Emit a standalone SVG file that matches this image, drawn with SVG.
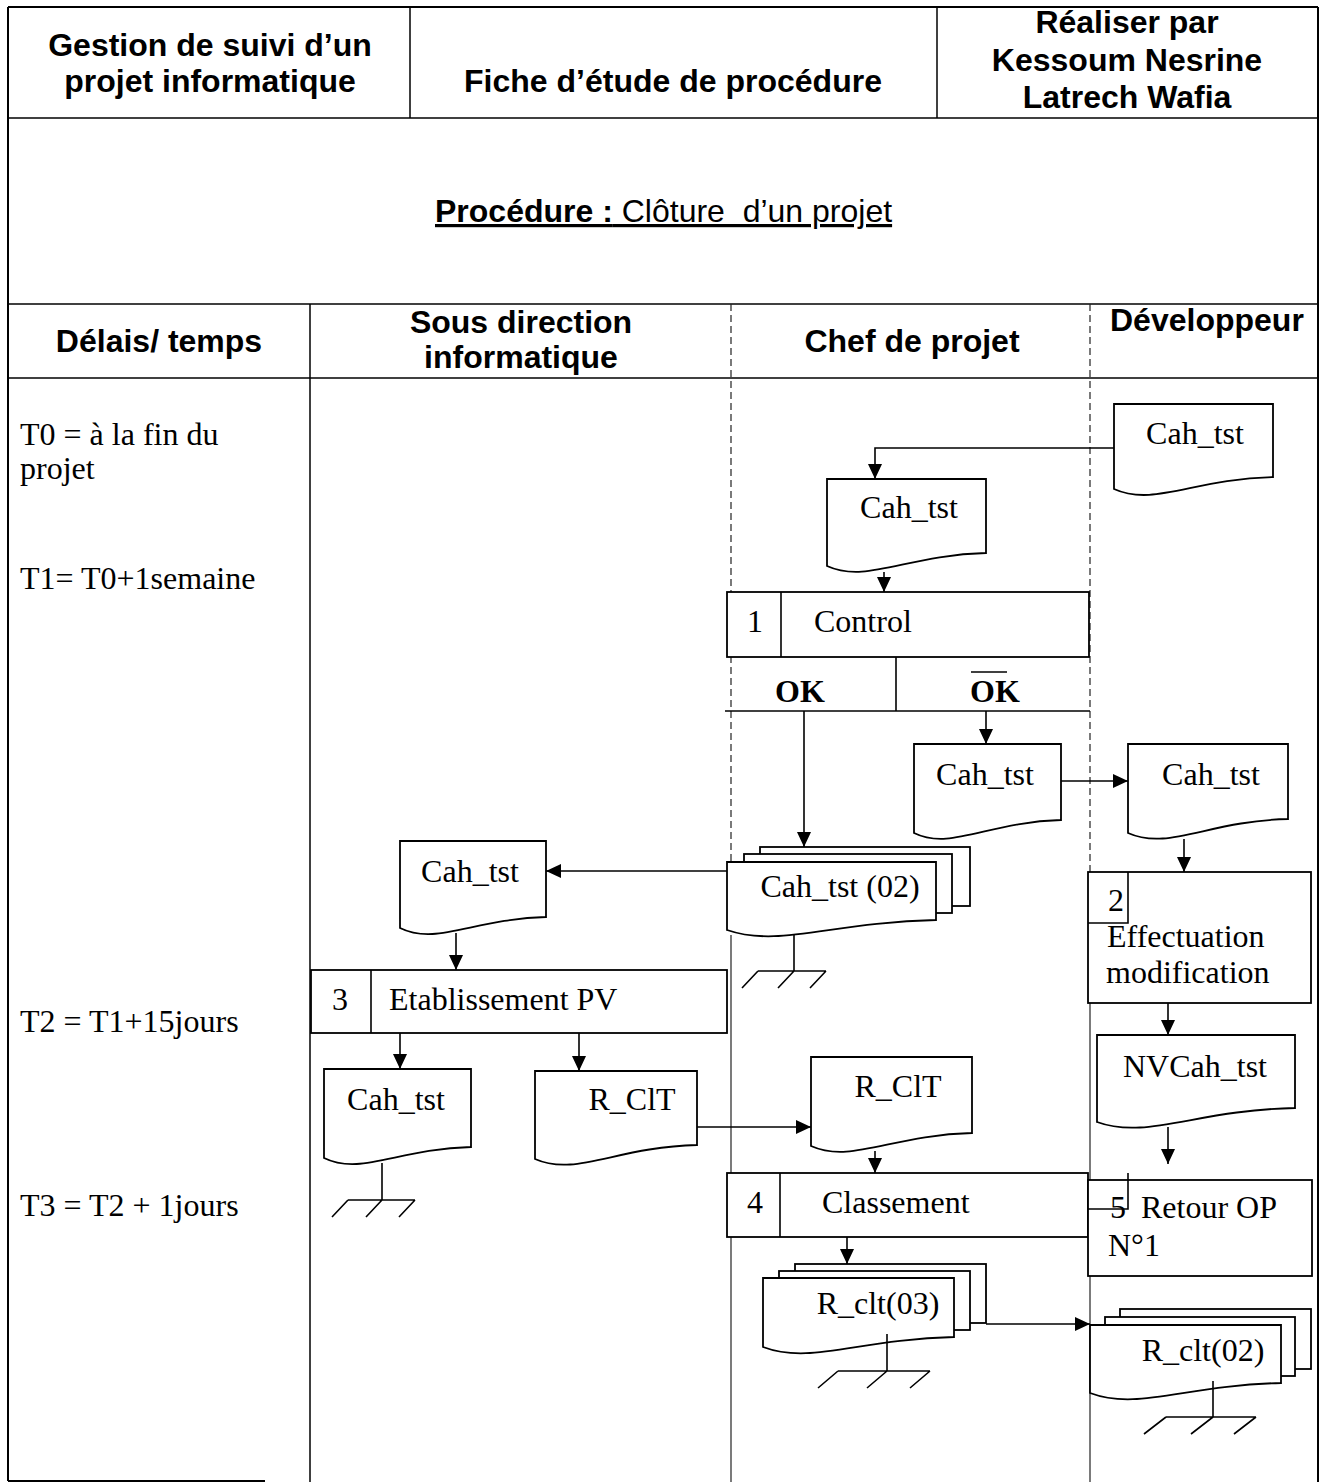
<svg xmlns="http://www.w3.org/2000/svg" width="1323" height="1482" viewBox="0 0 1323 1482">
  <style>
    .frame { stroke: #000; stroke-width: 2; fill: none; }
    .rule { stroke: #000; stroke-width: 1.5; fill: none; }
    .dash { stroke: #222; stroke-width: 1.2; fill: none; stroke-dasharray: 7 4; }
    .thin { stroke: #222; stroke-width: 1.2; fill: none; }
    .shape { fill: #fff; stroke: #000; stroke-width: 1.8; }
    .line { stroke: #000; stroke-width: 1.6; fill: none; }
    .conn { stroke: #000; stroke-width: 1.6; fill: none; marker-end: url(#ah); }
    .hdr { font-family: "Liberation Sans", Arial, sans-serif; font-weight: bold; font-size: 32px; fill: #000; }
    .lbl { font-family: "Liberation Serif", "Times New Roman", serif; font-size: 32px; fill: #000; }
    .mid { text-anchor: middle; }
  </style>
  <defs>
    <marker id="ah" viewBox="0 0 15 14" refX="15" refY="7" markerWidth="15" markerHeight="14" markerUnits="userSpaceOnUse" orient="auto">
      <path d="M0,0 L15,7 L0,14 Z" fill="#000"/>
    </marker>
  </defs>

  <rect width="1323" height="1482" fill="#fff"/>

  <!-- form frame and grid -->
  <g id="frame">
    <line class="frame" x1="8" y1="7" x2="1318" y2="7"/>
    <line class="frame" x1="8" y1="7" x2="8" y2="1481"/>
    <line class="frame" x1="1318" y1="7" x2="1318" y2="1482"/>
    <line class="frame" x1="8" y1="1481" x2="265" y2="1481"/>
    <line class="rule" x1="8" y1="118" x2="1318" y2="118"/>
    <line class="rule" x1="8" y1="304" x2="1318" y2="304"/>
    <line class="rule" x1="8" y1="378" x2="1318" y2="378"/>
    <line class="rule" x1="410" y1="7" x2="410" y2="118"/>
    <line class="rule" x1="937" y1="7" x2="937" y2="118"/>
    <line class="rule" x1="310" y1="304" x2="310" y2="1482"/>
    <line class="dash" x1="731" y1="304" x2="731" y2="862"/>
    <line class="thin" x1="731" y1="935" x2="731" y2="1482"/>
    <line class="dash" x1="1090" y1="304" x2="1090" y2="872"/>
    <line class="thin" x1="1090" y1="1003" x2="1090" y2="1482"/>
  </g>

  <!-- header texts -->
  <g id="header">
    <text class="hdr mid" x="210" y="56">Gestion de suivi d’un</text>
    <text class="hdr mid" x="210" y="92">projet informatique</text>
    <text class="hdr mid" x="673" y="92">Fiche d’étude de procédure</text>
    <text class="hdr mid" x="1127" y="33">Réaliser par</text>
    <text class="hdr mid" x="1127" y="71">Kessoum Nesrine</text>
    <text class="hdr mid" x="1127" y="108">Latrech Wafia</text>
    <text x="435" y="222" xml:space="preserve" text-decoration="underline" font-family="Liberation Sans, Arial, sans-serif" font-size="32"><tspan font-weight="bold">Procédure :</tspan> Clôture  d’un projet</text>
    <text class="hdr mid" x="159" y="352">Délais/ temps</text>
    <text class="hdr mid" x="521" y="333">Sous direction</text>
    <text class="hdr mid" x="521" y="368">informatique</text>
    <text class="hdr mid" x="912" y="352">Chef de projet</text>
    <text class="hdr" x="1110" y="331">Développeur</text>
  </g>

  <!-- time column -->
  <g id="delais">
    <text class="lbl" x="20" y="445">T0 = à la fin du</text>
    <text class="lbl" x="20" y="479">projet</text>
    <text class="lbl" x="20" y="589">T1= T0+1semaine</text>
    <text class="lbl" x="20" y="1032">T2 = T1+15jours</text>
    <text class="lbl" x="20" y="1216">T3 = T2 + 1jours</text>
  </g>

  <!-- connectors -->
  <g id="connectors">
    <polyline class="conn" points="1114,448 875,448 875,479"/>
    <line class="conn" x1="884" y1="572" x2="884" y2="592"/>
    <line class="line" x1="896" y1="657" x2="896" y2="711"/>
    <line class="rule" x1="725" y1="711" x2="1090" y2="711"/>
    <line class="conn" x1="804" y1="711" x2="804" y2="847"/>
    <line class="conn" x1="986" y1="711" x2="986" y2="744"/>
    <line class="conn" x1="1061" y1="781" x2="1128" y2="781"/>
    <line class="conn" x1="1184" y1="839" x2="1184" y2="872"/>
    <line class="conn" x1="727" y1="871" x2="546" y2="871"/>
    <line class="conn" x1="456" y1="933" x2="456" y2="970"/>
    <line class="conn" x1="400" y1="1033" x2="400" y2="1069"/>
    <line class="conn" x1="579" y1="1033" x2="579" y2="1071"/>
    <line class="conn" x1="697" y1="1127" x2="811" y2="1127"/>
    <line class="conn" x1="875" y1="1151" x2="875" y2="1173"/>
    <line class="conn" x1="1168" y1="1003" x2="1168" y2="1035"/>
    <line class="conn" x1="1168" y1="1127" x2="1168" y2="1164"/>
    <line class="conn" x1="847" y1="1237" x2="847" y2="1264"/>
    <line class="conn" x1="986" y1="1324" x2="1090" y2="1324"/>
  </g>

  <!-- Développeur: test book -->
  <g id="doc-dev-cah">
    <path class="shape" d="M1114,404 H1273 V477 C1193.5,479 1153.8,507 1114,489 Z"/>
    <text class="lbl mid" x="1195" y="444">Cah_tst</text>
  </g>

  <g id="doc-chef-cah">
    <path class="shape" d="M827,479 H986 V553 C906.5,555 866.8,584 827,566 Z"/>
    <text class="lbl mid" x="909" y="518">Cah_tst</text>
  </g>

  <g id="op-1">
    <rect class="shape" x="727" y="592" width="362" height="65"/>
    <line class="line" x1="781" y1="592" x2="781" y2="657"/>
    <text class="lbl mid" x="755" y="632">1</text>
    <text class="lbl" x="814" y="632">Control</text>
  </g>

  <g id="cond">
    <text class="lbl mid" x="800" y="702" font-weight="bold">OK</text>
    <text class="lbl mid" x="995" y="702" font-weight="bold">OK</text>
    <line class="line" x1="971" y1="672" x2="1007" y2="672"/>
  </g>

  <g id="doc-chef-cah-ko">
    <path class="shape" d="M914,744 H1061 V820 C987.5,822 950.8,851 914,833 Z"/>
    <text class="lbl mid" x="985" y="785">Cah_tst</text>
  </g>

  <g id="doc-dev-cah-ko">
    <path class="shape" d="M1128,744 H1288 V819 C1208,821 1168,851 1128,833 Z"/>
    <text class="lbl mid" x="1211" y="785">Cah_tst</text>
  </g>

  <g id="doc-chef-cah-02">
    <rect class="shape" x="760" y="847" width="210" height="59"/>
    <rect class="shape" x="744" y="854" width="208" height="59"/>
    <path class="shape" d="M727,862 H936 V920 C831.5,922 779.3,948 727,930 Z"/>
    <text class="lbl mid" x="840" y="897">Cah_tst (02)</text>
    <line class="line" x1="794" y1="935" x2="794" y2="971"/>
    <path class="line" d="M758,971 H826 M758,971 L742,988 M794,971 L778,988 M826,971 L810,988"/>
  </g>

  <g id="op-2">
    <rect class="shape" x="1088" y="872" width="223" height="131"/>
    <polyline class="line" points="1088,923 1128,923 1128,872"/>
    <text class="lbl mid" x="1116" y="911">2</text>
    <text class="lbl" x="1107" y="947">Effectuation</text>
    <text class="lbl" x="1106" y="983">modification</text>
  </g>

  <g id="doc-sd-cah">
    <path class="shape" d="M400,841 H546 V917 C473,919 436.5,946 400,928 Z"/>
    <text class="lbl mid" x="470" y="882">Cah_tst</text>
  </g>

  <g id="op-3">
    <rect class="shape" x="311" y="970" width="416" height="63"/>
    <line class="line" x1="371" y1="970" x2="371" y2="1033"/>
    <text class="lbl mid" x="340" y="1010">3</text>
    <text class="lbl" x="389" y="1010">Etablissement PV</text>
  </g>

  <g id="doc-sd-cah-arch">
    <path class="shape" d="M324,1069 H471 V1147 C397.5,1149 360.8,1176 324,1158 Z"/>
    <text class="lbl mid" x="396" y="1110">Cah_tst</text>
    <line class="line" x1="382" y1="1163" x2="382" y2="1200"/>
    <path class="line" d="M348,1200 H415 M348,1200 L332,1217 M382,1200 L366,1217 M415,1200 L399,1217"/>
  </g>

  <g id="doc-sd-rclt">
    <path class="shape" d="M535,1071 H697 V1145 C616,1147 575.5,1177 535,1159 Z"/>
    <text class="lbl mid" x="632" y="1110">R_ClT</text>
  </g>

  <g id="doc-chef-rclt">
    <path class="shape" d="M811,1057 H972 V1133 C891.5,1135 851.3,1164 811,1146 Z"/>
    <text class="lbl mid" x="898" y="1097">R_ClT</text>
  </g>

  <g id="doc-dev-nvcah">
    <path class="shape" d="M1097,1035 H1295 V1108 C1196,1110 1146.5,1140 1097,1122 Z"/>
    <text class="lbl mid" x="1195" y="1077">NVCah_tst</text>
  </g>

  <g id="op-4">
    <rect class="shape" x="727" y="1173" width="361" height="64"/>
    <line class="line" x1="780" y1="1173" x2="780" y2="1237"/>
    <text class="lbl mid" x="755" y="1213">4</text>
    <text class="lbl" x="822" y="1213">Classement</text>
  </g>

  <g id="op-5">
    <rect class="shape" x="1088" y="1180" width="224" height="96"/>
    <polyline class="line" points="1088,1209 1128,1209 1128,1173"/>
    <text class="lbl mid" x="1118" y="1218">5</text>
    <text class="lbl" x="1141" y="1218">Retour OP</text>
    <text class="lbl" x="1108" y="1256">N°1</text>
  </g>

  <g id="doc-chef-rclt-03">
    <rect class="shape" x="795" y="1264" width="191" height="59"/>
    <rect class="shape" x="779" y="1271" width="191" height="59"/>
    <path class="shape" d="M763,1278 H954 V1337 C858.5,1339 810.8,1365 763,1347 Z"/>
    <text class="lbl mid" x="878" y="1314">R_clt(03)</text>
    <line class="line" x1="887" y1="1334" x2="887" y2="1371"/>
    <path class="line" d="M838,1371 H930 M838,1371 L818,1388 M887,1371 L867,1388 M930,1371 L910,1388"/>
  </g>

  <g id="doc-dev-rclt-02">
    <rect class="shape" x="1120" y="1309" width="191" height="60"/>
    <rect class="shape" x="1105" y="1317" width="190" height="59"/>
    <path class="shape" d="M1090,1325 H1281 V1383 C1185.5,1385 1137.8,1411 1090,1393 Z"/>
    <text class="lbl mid" x="1203" y="1361">R_clt(02)</text>
    <line class="line" x1="1213" y1="1381" x2="1213" y2="1417"/>
    <path class="line" d="M1166,1417 H1256 M1166,1417 L1144,1434 M1213,1417 L1191,1434 M1256,1417 L1234,1434"/>
  </g>
</svg>
